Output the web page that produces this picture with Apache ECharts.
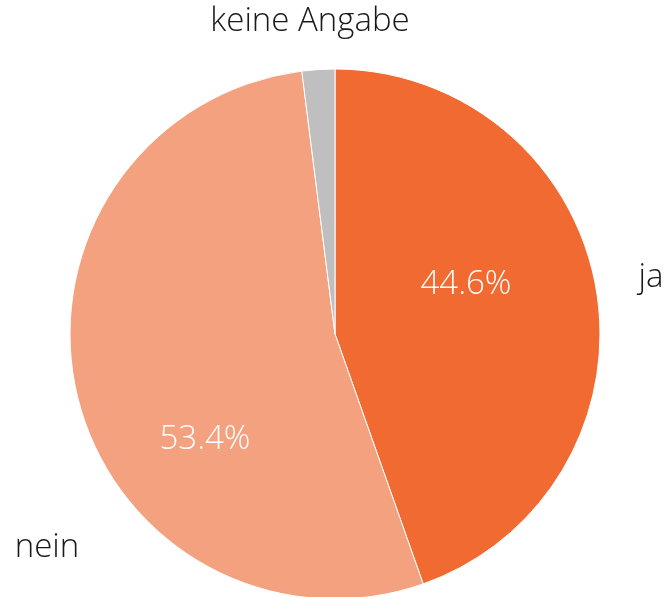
<!DOCTYPE html>
<html>
<head>
<meta charset="utf-8">
<script src="https://cdn.jsdelivr.net/npm/echarts@6/dist/echarts.min.js"></script>
<style>
  html, body { margin: 0; padding: 0; background: #fff; }
  #chart { width: 667px; height: 597px; }
</style>
</head>
<body>
<div id="chart"></div>
<script>
var categories = ["ja", "nein", "keine Angabe"];
var values = [44.6, 53.4, 2.0];
var colors = ["#F06A31", "#F4A17F", "#BFBFBF"];

// label anchor points (text only)
var nameSpots = [[651, 278], [47, 548], [310, 22]];
var pctSpots = [[466, 285], [205, 440], null];

var chart = echarts.init(document.getElementById("chart"));

var pieData = categories.map(function (c, i) {
    return { name: c, value: values[i], itemStyle: { color: colors[i] } };
});

var fontFam = "'Open Sans', 'Noto Sans', sans-serif";

chart.setOption({
    animation: false,
    series: [
        {
            type: "pie",
            center: [335, 334],
            radius: 265,
            startAngle: 90,
            clockwise: true,
            silent: true,
            avoidLabelOverlap: false,
            itemStyle: { borderColor: "#fff", borderWidth: 1 },
            label: {
                show: true,
                position: "inside",
                color: "#fff",
                fontFamily: fontFam,
                fontWeight: 300,
                fontSize: 33,
                formatter: function (p) {
                    return p.dataIndex < 2 ? p.value.toFixed(1) + "%" : "";
                }
            },
            labelLine: { show: false },
            labelLayout: function (p) {
                var s = pctSpots[p.dataIndex];
                if (!s) return {};
                return { x: s[0], y: s[1], align: "center", verticalAlign: "middle" };
            },
            data: pieData
        },
        {
            type: "pie",
            center: [335, 334],
            radius: 265,
            startAngle: 90,
            clockwise: true,
            silent: true,
            avoidLabelOverlap: false,
            itemStyle: { color: "transparent", borderWidth: 0 },
            label: {
                show: true,
                position: "outside",
                overflow: "none",
                color: "#1a1a1a",
                fontFamily: fontFam,
                fontWeight: 300,
                fontSize: 33,
                formatter: "{b}"
            },
            labelLine: { show: false },
            labelLayout: function (p) {
                var s = nameSpots[p.dataIndex];
                return { x: s[0], y: s[1], align: "center", verticalAlign: "middle" };
            },
            data: categories.map(function (c, i) {
                return { name: c, value: values[i] };
            })
        }
    ]
});
</script>
</body>
</html>
